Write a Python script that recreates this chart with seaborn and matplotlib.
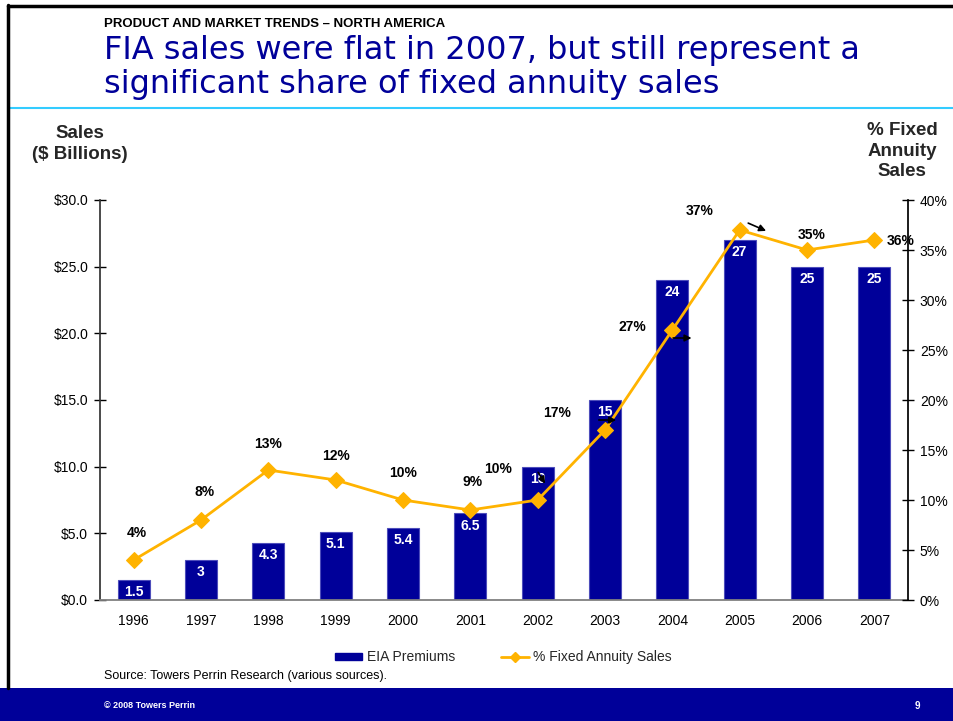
import numpy as np
import pandas as pd
import matplotlib
matplotlib.use("Agg")
import matplotlib.pyplot as plt
import matplotlib.transforms as mtransforms
from matplotlib.lines import Line2D
from matplotlib.patches import Patch, Rectangle
import seaborn as sns

# ---- data ----
years = ["1996", "1997", "1998", "1999", "2000", "2001", "2002", "2003", "2004", "2005", "2006", "2007"]
premiums = [1.5, 3, 4.3, 5.1, 5.4, 6.5, 10, 15, 24, 27, 25, 25]
premium_labels = ["1.5", "3", "4.3", "5.1", "5.4", "6.5", "10", "15", "24", "27", "25", "25"]
pct_fixed = [4, 8, 13, 12, 10, 9, 10, 17, 27, 37, 35, 36]
left_ticks = [0, 5, 10, 15, 20, 25, 30]
right_ticks = [0, 5, 10, 15, 20, 25, 30, 35, 40]

# label offsets (pixels) relative to each line point
label_offsets = [(3, 27), (4, 28), (0, 26), (0, 24), (0, 27), (2, 28),
                 (-40, 31), (-48, 17), (-40, 3), (-40, 19), (5, 15), (26, -1)]

sns.set_theme(style="white")
plt.rcParams["font.family"] = ["Liberation Sans", "DejaVu Sans"]

NAVY = "#000099"
GOLD = "#FFB300"

W, H = 954, 721
fig = plt.figure(figsize=(W / 100, H / 100), dpi=100)
fig.patch.set_facecolor("white")

ax = fig.add_axes([100 / W, (H - 600) / H, 808 / W, 400 / H])
df = pd.DataFrame({"year": years, "premium": premiums})
sns.barplot(data=df, x="year", y="premium", ax=ax, color=NAVY, saturation=1,
            width=0.48, edgecolor="#4d4dbb", linewidth=0.8)
ax.set_xlim(-0.5, len(years) - 0.5)
ax.set_ylim(0, 30)
ax.set_yticks(left_ticks)
ax.set_yticklabels([f"${v:.1f}" for v in left_ticks], fontsize=10, color="black")
ax.set_xlabel("")
ax.set_ylabel("")
ax.tick_params(axis="x", which="major", length=0, labelsize=10, pad=10, colors="black")
ax.set_xticks(np.arange(-0.5, len(years), 1.0), minor=True)
ax.tick_params(axis="x", which="minor", direction="inout", length=9, width=1, color="black")
ax.tick_params(axis="y", direction="inout", length=9, width=1, color="black", pad=4)
for s in ["top", "right"]:
    ax.spines[s].set_visible(False)
ax.spines["left"].set_color("#333333")
ax.spines["bottom"].set_color("#808080")
ax.spines["bottom"].set_linewidth(1.3)

# bar value labels
for i, (v, lab) in enumerate(zip(premiums, premium_labels)):
    ax.annotate(lab, xy=(i, v), xytext=(0, -9), textcoords="offset points",
                ha="center", va="center", color="white", fontsize=10, fontweight="bold")

ax2 = ax.twinx()
ax2.set_position(ax.get_position())
sns.lineplot(x=np.arange(len(years)), y=pct_fixed, ax=ax2, color=GOLD, linewidth=2,
             marker="D", markersize=8, markeredgecolor=GOLD, zorder=5)
ax2.set_ylim(0, 40)
ax2.set_yticks(right_ticks)
ax2.set_yticklabels([f"{v}%" for v in right_ticks], fontsize=10, color="black")
ax2.tick_params(axis="y", direction="inout", length=9, width=1, color="black", pad=4)
for s in ["top", "left", "bottom"]:
    ax2.spines[s].set_visible(False)
ax2.spines["right"].set_color("black")
ax2.set_ylabel("")

for i, (v, (dx, dy)) in enumerate(zip(pct_fixed, label_offsets)):
    tr = mtransforms.offset_copy(ax2.transData, fig=fig, x=dx, y=dy, units="dots")
    ax2.text(i, v, f"{v}%", transform=tr, ha="center", va="center",
             fontsize=10, fontweight="bold", color="black", zorder=6)

# small leftover leader arrows
arrows = [(6, (-1, 30), (9, 14)), (7, (-9, 10), (14, 10)),
          (8, (-2, -8), (22, -8)), (9, (6, 8), (29, -2))]
for i, (sx, sy), (ex, ey) in arrows:
    t0 = mtransforms.offset_copy(ax2.transData, fig=fig, x=sx, y=sy, units="dots")
    t1 = mtransforms.offset_copy(ax2.transData, fig=fig, x=ex, y=ey, units="dots")
    ax2.annotate("", xy=(i, pct_fixed[i]), xycoords=t1,
                 xytext=(i, pct_fixed[i]), textcoords=t0,
                 arrowprops=dict(arrowstyle="-|>", color="black", lw=1.2, mutation_scale=10),
                 zorder=7)

# axis titles
fig.text(80 / W, 1 - 144 / H, "Sales\n($ Billions)", ha="center", va="center",
         fontsize=13.5, fontweight="bold", linespacing=1.35)
fig.text(902 / W, 1 - 151 / H, "% Fixed\nAnnuity\nSales", ha="center", va="center",
         fontsize=13.5, fontweight="bold", linespacing=1.3)

# headings
fig.text(104 / W, 1 - 24 / H, "PRODUCT AND MARKET TRENDS \u2013 NORTH AMERICA", ha="left",
         va="center", fontsize=9.5, fontweight="bold", color="black")
fig.text(104 / W, 1 - 50 / H, "FIA sales were flat in 2007, but still represent a",
         ha="left", va="center", fontsize=23, color=NAVY, family="DejaVu Sans")
fig.text(104 / W, 1 - 84 / H, "significant share of fixed annuity sales",
         ha="left", va="center", fontsize=23, color=NAVY, family="DejaVu Sans")

# decorative lines / borders
fig.add_artist(Line2D([8 / W, 1], [1 - 108 / H, 1 - 108 / H], color="#33CCFF", lw=1.5))
fig.add_artist(Line2D([8 / W, 1], [1 - 6 / H, 1 - 6 / H], color="black", lw=2.5))
fig.add_artist(Line2D([8.5 / W, 8.5 / W], [33 / H, 1 - 5 / H], color="black", lw=2.5))

# legend
handles = [Patch(facecolor=NAVY, edgecolor=NAVY),
           Line2D([0], [0], color=GOLD, lw=2, marker="D", markersize=5)]
fig.legend(handles, ["EIA Premiums", "% Fixed Annuity Sales"], loc="center",
           bbox_to_anchor=(503 / W, 1 - 657 / H), ncol=2, frameon=False, fontsize=10,
           handlelength=2.0, handleheight=0.4, columnspacing=3.3, handletextpad=0.3)

fig.text(104 / W, 1 - 676 / H, "Source: Towers Perrin Research (various sources).",
         ha="left", va="center", fontsize=9, color="black")

# footer band
fig.add_artist(Rectangle((0, 0), 1, 33 / H, transform=fig.transFigure,
                         facecolor=NAVY, edgecolor="none"))
fig.text(104 / W, 15 / H, "\u00a9 2008 Towers Perrin", ha="left", va="center",
         fontsize=6.5, fontweight="bold", color="white")
fig.text(917 / W, 15 / H, "9", ha="center", va="center",
         fontsize=7, fontweight="bold", color="white")

fig.savefig("out.png", dpi=100)
